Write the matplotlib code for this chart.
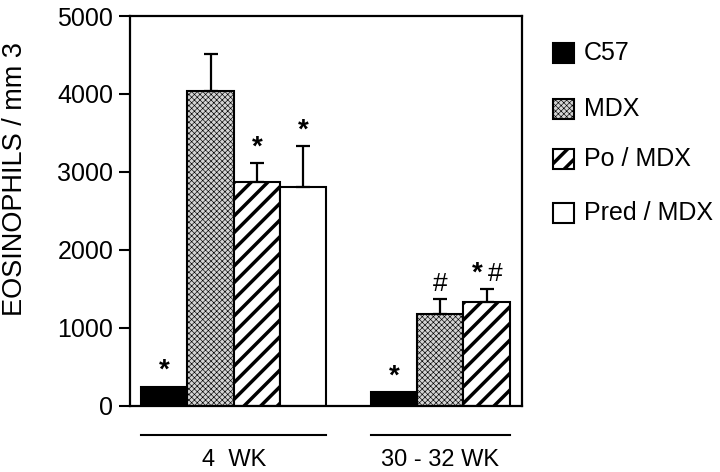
import matplotlib
matplotlib.use("Agg")
import matplotlib.pyplot as plt
import matplotlib.transforms as mtransforms
from matplotlib.patches import Rectangle
import numpy as np

plt.rcParams['font.family'] = ['Liberation Sans', 'DejaVu Sans']

# ---- data ----
groups = ['4  WK', '30 - 32 WK']
series = ['C57', 'MDX', 'Po / MDX', 'Pred / MDX']
means_4wk = [240, 4040, 2870, 2805]
sem_4wk = [0, 470, 240, 525]
means_30wk = [170, 1175, 1333]
sem_30wk = [0, 192, 162]
marks_4wk = ['*', '', '*', '*']
marks_30wk = ['*', '#', '* #']
yticks = [0, 1000, 2000, 3000, 4000, 5000]
ylabel = 'EOSINOPHILS / mm 3'

# ---- styles ----
styles = [
    dict(facecolor='black', hatch=None, hlw=1.0),
    dict(facecolor='#d4d4d4', hatch='xxxxxx', hlw=0.45),
    dict(facecolor='white', hatch='//', hlw=2.5),
    dict(facecolor='white', hatch=None, hlw=1.0),
]

fig = plt.figure(figsize=(7.2, 4.72), dpi=100)
ax = fig.add_axes([130/720, 1-405.5/472, (522-130)/720, (405.5-16)/472])

group_starts = [0.24, 5.2]
group_data = [(means_4wk, sem_4wk, marks_4wk), (means_30wk, sem_30wk, marks_30wk)]
w = 1.0
for gi, (means, sems, marks) in enumerate(group_data):
    for i, (m, s, mk) in enumerate(zip(means, sems, marks)):
        st = styles[i]
        x = group_starts[gi] + i * w + w / 2
        with plt.rc_context({'hatch.linewidth': st['hlw'], 'hatch.color': 'black'}):
            b = ax.bar(x, m, width=w, facecolor=st['facecolor'], edgecolor='black',
                       linewidth=1.5, hatch=st['hatch'], zorder=2)
        for p in b.patches:
            if hasattr(p, 'set_hatch_linewidth'):
                p.set_hatch_linewidth(st['hlw'])
        top = m
        if s > 0:
            ax.errorbar(x, m, yerr=[[0], [s]], fmt='none', ecolor='black',
                        elinewidth=1.6, capsize=5, capthick=1.6, zorder=3)
            top = m + s
        tokens = mk.split()
        n = len(tokens)
        for k, tok in enumerate(tokens):
            dx = (k - (n - 1) / 2) * 13
            if tok == '*':
                ax.annotate(tok, (x, top), xytext=(dx, 2), textcoords='offset points',
                            ha='center', va='bottom', fontsize=20, fontweight='bold',
                            zorder=4)
            else:
                ax.annotate(tok, (x, top), xytext=(dx, 2), textcoords='offset points',
                            ha='center', va='bottom', fontsize=19, zorder=4)
    # group line and label
    x0 = group_starts[gi]
    x1 = group_starts[gi] + len(means) * w
    trans = mtransforms.blended_transform_factory(ax.transData, ax.transAxes)
    ax.plot([x0, x1], [-0.077, -0.077], color='black', lw=1.5, transform=trans,
            clip_on=False)
    ax.text((x0 + x1) / 2, -0.14, groups[gi], transform=trans, ha='center',
            va='center', fontsize=17)

ax.set_xlim(0, (522-130)/46.3)
ax.set_ylim(0, 5000)
ax.set_yticks(yticks)
ax.set_yticklabels([str(t) for t in yticks], fontsize=18)
ax.set_xticks([])
ax.tick_params(axis='y', direction='out', length=8, width=1.5, pad=4)
for sp in ax.spines.values():
    sp.set_linewidth(1.6)

fig.text(15/720, 1-179/472, ylabel, rotation=90, ha='center', va='center',
         fontsize=19.5)

# ---- legend ----
leg_y = [53, 109, 159, 213]
for i, (lab, yy) in enumerate(zip(series, leg_y)):
    st = styles[i]
    with plt.rc_context({'hatch.linewidth': st['hlw'], 'hatch.color': 'black'}):
        r = Rectangle((553/720, 1-(yy+10)/472), 21/720, 20/472, transform=fig.transFigure,
                      facecolor=st['facecolor'], edgecolor='black', linewidth=1.5,
                      hatch=st['hatch'])
    if hasattr(r, 'set_hatch_linewidth'):
        r.set_hatch_linewidth(st['hlw'])
    fig.patches.append(r)
    fig.text(584/720, 1-yy/472, lab, ha='left', va='center', fontsize=18)

fig.savefig('out.png', dpi=100)
